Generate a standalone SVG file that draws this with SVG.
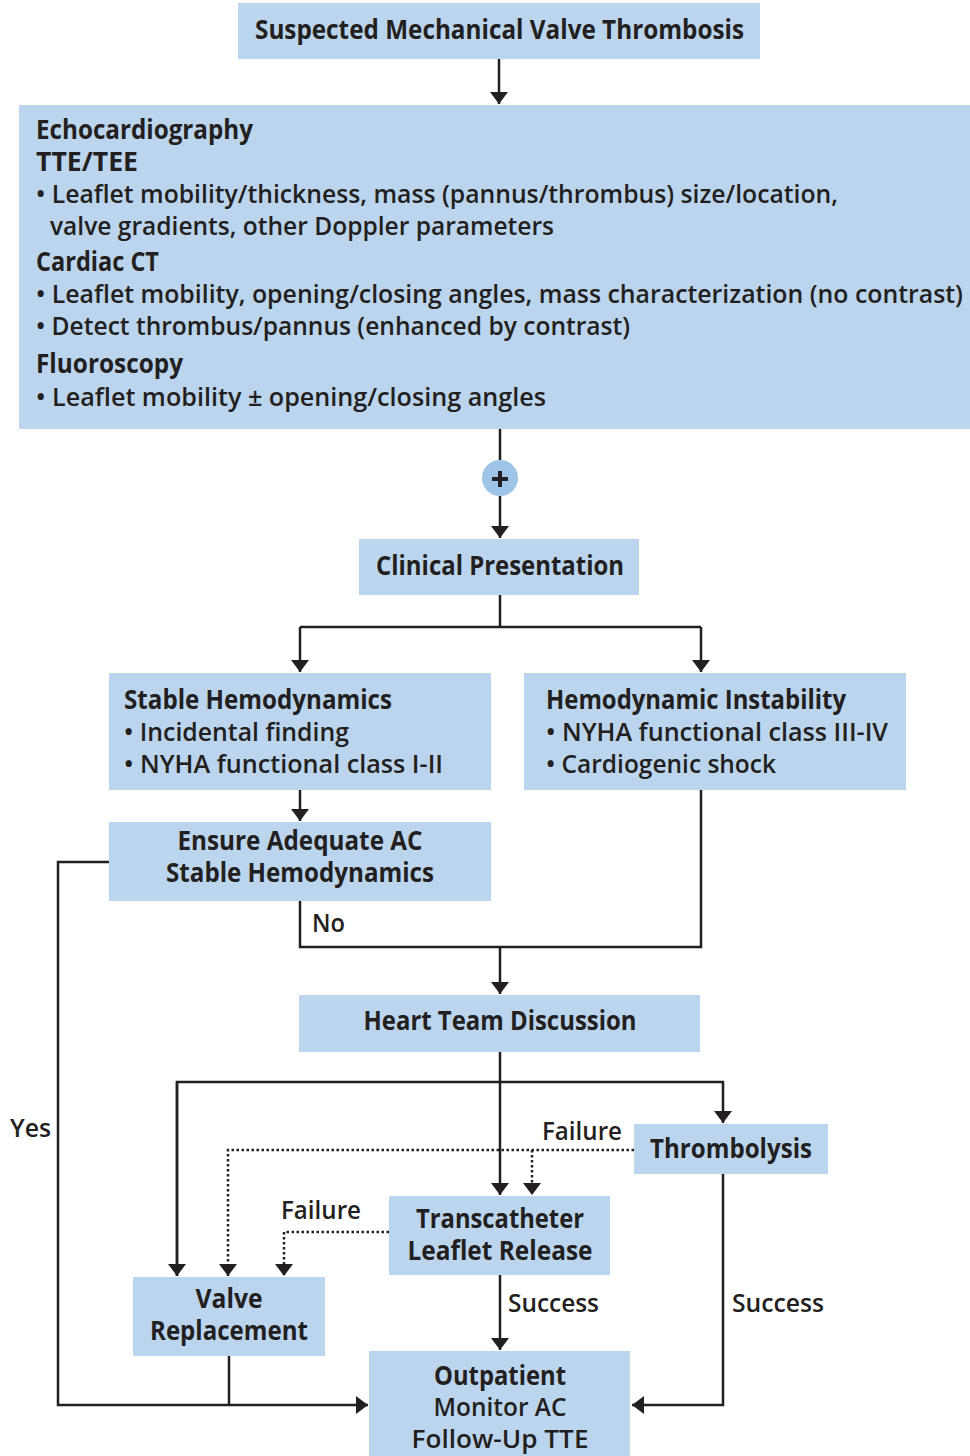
<svg xmlns="http://www.w3.org/2000/svg" width="970" height="1456" viewBox="0 0 970 1456">
<style>
.box{fill:#BBD5EE}
text{font-family:"Open Sans","Noto Sans","DejaVu Sans",sans-serif;font-size:26px;font-weight:600;fill:#231F20}
.b{font-weight:bold}
.c{text-anchor:middle}
.ln{fill:none;stroke:#231F20;stroke-width:2.5}
.dt{fill:none;stroke:#231F20;stroke-width:2.5;stroke-dasharray:2.5,2.5}
</style>
<defs>
<marker id="ah" viewBox="0 0 12 18" refX="12" refY="9" markerWidth="12" markerHeight="18" markerUnits="userSpaceOnUse" orient="auto">
<path d="M0,0 L12,9 L0,18 z" fill="#231F20"/>
</marker>
</defs>
<rect width="970" height="1456" fill="#fff"/>
<g id="connectors">
<path class="ln" d="M499,59 V104" marker-end="url(#ah)"/>
<path class="ln" d="M500,429 V460"/>
<path class="ln" d="M500,496 V538" marker-end="url(#ah)"/>
<path class="ln" d="M500,595 V627"/>
<path class="ln" d="M300,627 H701"/>
<path class="ln" d="M300,627 V672" marker-end="url(#ah)"/>
<path class="ln" d="M701,627 V672" marker-end="url(#ah)"/>
<path class="ln" d="M300,790 V821" marker-end="url(#ah)"/>
<path class="ln" d="M300,901 V947 H701 V790"/>
<path class="ln" d="M500,947 V994" marker-end="url(#ah)"/>
<path class="ln" d="M500,1052 V1195" marker-end="url(#ah)"/>
<path class="ln" d="M177,1276 V1082 H723 V1123" marker-end="url(#ah)"/>
<path class="ln" d="M177,1082 V1276" marker-end="url(#ah)"/>
<path class="dt" d="M634,1150 H228 V1276" marker-end="url(#ah)"/>
<path class="dt" d="M532,1150 V1195" marker-end="url(#ah)"/>
<path class="dt" d="M389,1232 H284 V1276" marker-end="url(#ah)"/>
<path class="ln" d="M500,1275 V1350" marker-end="url(#ah)"/>
<path class="ln" d="M723,1174 V1405 H632" marker-end="url(#ah)"/>
<path class="ln" d="M109,862 H58 V1405 H368" marker-end="url(#ah)"/>
<path class="ln" d="M229,1356 V1405"/>
<text x="312" y="932" textLength="33" lengthAdjust="spacingAndGlyphs">No</text>
<text x="10" y="1137" textLength="41" lengthAdjust="spacingAndGlyphs">Yes</text>
<text x="542" y="1140" textLength="80" lengthAdjust="spacingAndGlyphs">Failure</text>
<text x="281" y="1219" textLength="80" lengthAdjust="spacingAndGlyphs">Failure</text>
<text x="508" y="1312" textLength="91" lengthAdjust="spacingAndGlyphs">Success</text>
<text x="732" y="1312" textLength="92" lengthAdjust="spacingAndGlyphs">Success</text>
</g>
<g id="n-suspected">
<rect class="box" x="238" y="3" width="522" height="56"/>
<text class="b" x="255" y="39" textLength="489" lengthAdjust="spacingAndGlyphs">Suspected Mechanical Valve Thrombosis</text>
</g>
<g id="n-imaging">
<rect class="box" x="19" y="105" width="951" height="324"/>
<text class="b" x="36" y="139" textLength="217" lengthAdjust="spacingAndGlyphs">Echocardiography</text>
<text class="b" x="36" y="171" textLength="102" lengthAdjust="spacingAndGlyphs">TTE/TEE</text>
<text x="36" y="203" textLength="802" lengthAdjust="spacingAndGlyphs">• Leaflet mobility/thickness, mass (pannus/thrombus) size/location,</text>
<text x="50" y="235" textLength="504" lengthAdjust="spacingAndGlyphs">valve gradients, other Doppler parameters</text>
<text class="b" x="36" y="271" textLength="123" lengthAdjust="spacingAndGlyphs">Cardiac CT</text>
<text x="36" y="303" textLength="927" lengthAdjust="spacingAndGlyphs">• Leaflet mobility, opening/closing angles, mass characterization (no contrast)</text>
<text x="36" y="335" textLength="594" lengthAdjust="spacingAndGlyphs">• Detect thrombus/pannus (enhanced by contrast)</text>
<text class="b" x="36" y="373" textLength="147" lengthAdjust="spacingAndGlyphs">Fluoroscopy</text>
<text x="36" y="406" textLength="510" lengthAdjust="spacingAndGlyphs">• Leaflet mobility ± opening/closing angles</text>
</g>
<g id="n-plus">
<circle cx="500" cy="478" r="18" fill="#9EC4E8"/>
<path d="M492,479 H508 M500,471 V487" stroke="#231F20" stroke-width="4" fill="none"/>
</g>
<g id="n-clinical">
<rect class="box" x="359" y="539" width="280" height="56"/>
<text class="b c" x="500" y="575" textLength="248" lengthAdjust="spacingAndGlyphs">Clinical Presentation</text>
</g>
<g id="n-stable">
<rect class="box" x="109" y="673" width="382" height="117"/>
<text class="b" x="124" y="709" textLength="268" lengthAdjust="spacingAndGlyphs">Stable Hemodynamics</text>
<text x="124" y="741" textLength="225" lengthAdjust="spacingAndGlyphs">• Incidental finding</text>
<text x="124" y="773" textLength="319" lengthAdjust="spacingAndGlyphs">• NYHA functional class I-II</text>
</g>
<g id="n-instability">
<rect class="box" x="524" y="673" width="382" height="117"/>
<text class="b" x="546" y="709" textLength="300" lengthAdjust="spacingAndGlyphs">Hemodynamic Instability</text>
<text x="546" y="741" textLength="342" lengthAdjust="spacingAndGlyphs">• NYHA functional class III-IV</text>
<text x="546" y="773" textLength="230" lengthAdjust="spacingAndGlyphs">• Cardiogenic shock</text>
</g>
<g id="n-ensure">
<rect class="box" x="109" y="822" width="382" height="79"/>
<text class="b c" x="300" y="850" textLength="245" lengthAdjust="spacingAndGlyphs">Ensure Adequate AC</text>
<text class="b c" x="300" y="882" textLength="268" lengthAdjust="spacingAndGlyphs">Stable Hemodynamics</text>
</g>
<g id="n-heart">
<rect class="box" x="299" y="995" width="401" height="57"/>
<text class="b c" x="500" y="1030" textLength="273" lengthAdjust="spacingAndGlyphs">Heart Team Discussion</text>
</g>
<g id="n-thrombolysis">
<rect class="box" x="634" y="1124" width="194" height="50"/>
<text class="b c" x="731" y="1158" textLength="162" lengthAdjust="spacingAndGlyphs">Thrombolysis</text>
</g>
<g id="n-tlr">
<rect class="box" x="389" y="1196" width="221" height="79"/>
<text class="b c" x="500" y="1228" textLength="168" lengthAdjust="spacingAndGlyphs">Transcatheter</text>
<text class="b c" x="500" y="1260" textLength="185" lengthAdjust="spacingAndGlyphs">Leaflet Release</text>
</g>
<g id="n-valve">
<rect class="box" x="133" y="1277" width="192" height="79"/>
<text class="b c" x="229" y="1308" textLength="67" lengthAdjust="spacingAndGlyphs">Valve</text>
<text class="b c" x="229" y="1340" textLength="158" lengthAdjust="spacingAndGlyphs">Replacement</text>
</g>
<g id="n-outpatient">
<rect class="box" x="369" y="1351" width="261" height="105"/>
<text class="b c" x="500" y="1385" textLength="132" lengthAdjust="spacingAndGlyphs">Outpatient</text>
<text class="c" x="500" y="1416" textLength="133" lengthAdjust="spacingAndGlyphs">Monitor AC</text>
<text class="c" x="500" y="1448" textLength="177" lengthAdjust="spacingAndGlyphs">Follow-Up TTE</text>
</g>
</svg>
